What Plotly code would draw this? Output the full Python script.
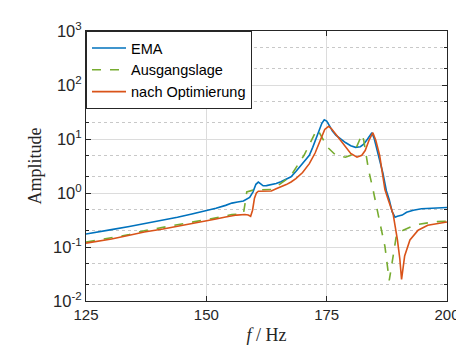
import plotly.graph_objects as go

# EMA (measured)
f_ema = [125, 127, 130.3, 134, 137.1, 141, 144, 147, 150, 152, 154, 155.3, 156.5, 157.7, 159.0,
         159.7, 160.3, 160.8, 161.3, 161.8, 162.5, 163.5, 164.5, 165.5, 166.6, 167.6, 168.6, 169.6,
         170.7, 171.4, 172.1, 172.8, 173.4, 174.0, 174.5, 175.0, 175.6, 176.2, 176.9, 178.0, 178.9,
         180.0, 181.0, 182.0, 182.7, 183.5, 184.0, 184.4, 184.9, 185.7, 186.7, 187.4, 188.0, 188.6,
         189.2, 189.7, 190.2, 190.7, 191.6, 193.0, 194.7, 197.0, 200]
a_ema = [0.174, 0.185, 0.21, 0.24, 0.27, 0.31, 0.356, 0.41, 0.47, 0.52, 0.59, 0.65, 0.68, 0.71, 0.83,
         1.05, 1.45, 1.59, 1.48, 1.36, 1.37, 1.42, 1.5, 1.62, 1.8, 2.0, 2.5, 3.2,
         4.0, 5.0, 7.0, 10.5, 14.0, 19.5, 22.7, 21.5, 17.5, 14.0, 11.8, 9.8, 8.6,
         7.5, 7.0, 7.2, 8.0, 10.0, 12.0, 13.1, 10.0, 5.3, 2.3, 1.1, 0.75, 0.45,
         0.356, 0.37, 0.383, 0.39, 0.44, 0.48, 0.51, 0.53, 0.54]

# Ausgangslage (initial model)
f_aus = [125, 130.3, 134, 137.1, 141, 144, 147, 150, 153, 155.3, 157.7, 158.0, 158.4, 159.7, 161.8,
         163.5, 165.0, 166.9, 168.0, 169.0, 170.3, 171.3, 172.1, 172.7, 173.1, 173.6, 174.4, 175.2,
         176.9, 178.9, 180.0, 180.9, 181.7, 182.35, 182.7, 183.0, 183.7, 184.7, 185.4, 186.1, 187.1,
         187.6, 188.0, 188.4, 188.8, 189.5, 190.9, 193.6, 196.0, 198.0, 200]
a_aus = [0.123, 0.147, 0.17, 0.20, 0.23, 0.26, 0.29, 0.32, 0.36, 0.40, 0.41, 0.6, 1.05, 1.13, 1.15,
         1.16, 1.4, 1.85, 2.4, 3.3, 5.0, 7.5, 10.6, 13.5, 15.0, 12.5, 9.0, 7.0,
         5.0, 4.6, 5.0, 6.1, 9.0, 12.2, 9.5, 6.1, 2.7, 1.08, 0.5, 0.27, 0.103,
         0.05, 0.024, 0.04, 0.068, 0.167, 0.205, 0.259, 0.28, 0.295, 0.30]

# nach Optimierung (updated model)
f_opt = [125, 130.3, 134, 137.1, 141, 144, 147, 150, 152, 154, 156.3, 158.0, 158.7, 159.2, 159.6,
         160.0, 160.4, 160.8, 161.8, 163.5, 164.5, 165.5, 166.6, 167.6, 168.6, 170.0, 171.4, 172.6,
         173.8, 174.6, 175.4, 176.0, 176.9, 178.0, 178.9, 180.0, 181.3, 182.3, 183.0, 183.8, 184.6,
         185.2, 186.0, 186.6, 187.1, 187.9, 188.8, 189.7, 190.2, 190.56, 190.9, 191.2, 192.3, 194.0,
         196.0, 198.0, 200]
a_opt = [0.118, 0.141, 0.165, 0.19, 0.215, 0.24, 0.27, 0.305, 0.33, 0.36, 0.39, 0.40, 0.39, 0.37, 0.48,
         0.8, 1.0, 1.08, 1.08, 1.09, 1.2, 1.3, 1.43, 1.6, 1.85, 2.4, 3.5, 5.5,
         10.6, 15.0, 17.2, 15.5, 12.2, 9.0, 7.0, 5.4, 4.6, 5.0, 6.1, 9.5, 13.1,
         9.5, 5.0, 2.3, 1.16, 0.7, 0.41, 0.135, 0.06, 0.025, 0.04, 0.068, 0.135, 0.205,
         0.253, 0.275, 0.29]

x_ticks = [125, 150, 175, 200]
y_ticks = [0.01, 0.1, 1, 10, 100, 1000]
y_ticktext = ["10<sup>-2</sup>", "10<sup>-1</sup>", "10<sup>0</sup>",
              "10<sup>1</sup>", "10<sup>2</sup>", "10<sup>3</sup>"]

fig = go.Figure()
fig.add_trace(go.Scatter(x=f_ema, y=a_ema, mode="lines", name="EMA",
                         line=dict(color="#0072BD", width=1.6)))
fig.add_trace(go.Scatter(x=f_aus, y=a_aus, mode="lines", name="Ausgangslage",
                         line=dict(color="#77AC30", width=1.6, dash="dash")))
fig.add_trace(go.Scatter(x=f_opt, y=a_opt, mode="lines", name="nach Optimierung",
                         line=dict(color="#D95319", width=1.6)))

axis_common = dict(
    showline=True, linecolor="#262626", linewidth=1, mirror="ticks",
    ticks="inside", tickcolor="#262626", ticklen=5,
    showgrid=True, gridcolor="#dcdcdc", gridwidth=1, zeroline=False,
)

fig.update_xaxes(
    type="linear", range=[125, 200], tickvals=x_ticks, ticktext=[str(v) for v in x_ticks],
    tickfont=dict(family="Liberation Sans, Arial, sans-serif", size=15, color="#262626"),
    title=dict(text="<i>f</i> / Hz", font=dict(family="Liberation Serif, serif", size=18, color="#262626"),
               standoff=6),
    **axis_common,
)
fig.update_yaxes(
    type="log", range=[-2, 3], tickvals=y_ticks, ticktext=y_ticktext,
    tickfont=dict(family="Liberation Sans, Arial, sans-serif", size=16.5, color="#262626"),
    title=dict(text="Amplitude", font=dict(family="Liberation Serif, serif", size=18, color="#262626"),
               standoff=6),
    minor=dict(ticks="inside", ticklen=3, tickcolor="#262626", showgrid=True,
               gridcolor="#c8c8c8", griddash="dot", gridwidth=1),
    **axis_common,
)

fig.update_layout(
    width=464, height=346,
    margin=dict(l=78, r=21, t=19, b=50),
    plot_bgcolor="white", paper_bgcolor="white",
    showlegend=True,
    legend=dict(
        x=0.0, y=1.0, xanchor="left", yanchor="top",
        bgcolor="white", bordercolor="#262626", borderwidth=1,
        font=dict(family="Liberation Sans, Arial, sans-serif", size=14.5, color="#000000"),
        tracegroupgap=0, itemwidth=34,
    ),
)

fig.write_html("out.html")
